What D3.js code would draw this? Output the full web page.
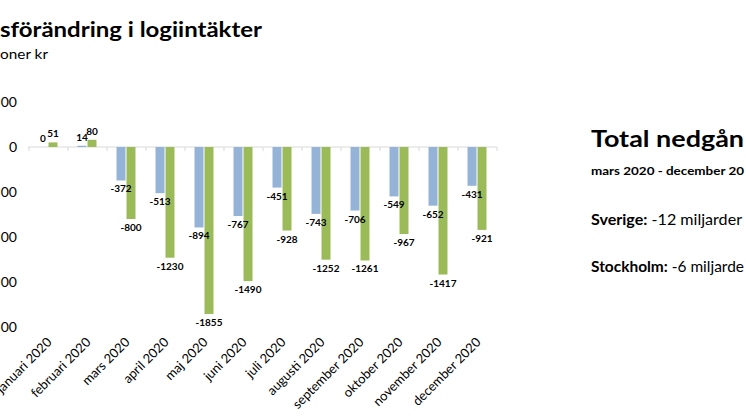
<!DOCTYPE html>
<html>
<head>
<meta charset="utf-8">
<script src="https://cdn.jsdelivr.net/npm/d3@7"></script>
<style>
  body { margin: 0; background: #fff; overflow: hidden; }
  text { font-family: Lato, "Noto Sans", sans-serif; }
</style>
</head>
<body>
<div id="chart"></div>
<script>
"use strict";

const months = ["januari 2020", "februari 2020", "mars 2020", "april 2020", "maj 2020", "juni 2020",
    "juli 2020", "augusti 2020", "september 2020", "oktober 2020", "november 2020", "december 2020"];
const stockholm = [0, 14, -372, -513, -894, -767, -451, -743, -706, -549, -652, -431];
const sverige = [51, 80, -800, -1230, -1855, -1490, -928, -1252, -1261, -967, -1417, -921];
const yTicks = [500, 0, -500, -1000, -1500, -2000];

const width = 746, height = 419;

const svg = d3.select("#chart")
    .append("svg")
    .attr("width", width)
    .attr("height", height);

const x = d3.scaleBand()
    .domain(months)
    .range([29, 497]);

const y = d3.scaleLinear()
    .domain([-2000, 500])
    .range([327, 102]);

// the source image is cropped: only the visible parts of the texts are shown
svg.append("text")
    .attr("x", 0).attr("y", 37)
    .attr("font-size", 21).attr("font-weight", "bold")
    .attr("textLength", 262).attr("lengthAdjust", "spacingAndGlyphs")
    .text("sförändring i logiintäkter");

svg.append("text")
    .attr("x", 0).attr("y", 59)
    .attr("font-size", 14)
    .attr("textLength", 48).attr("lengthAdjust", "spacingAndGlyphs")
    .text("oner kr");

// y tick labels (leading digit cut off in the source)
svg.selectAll(".ylab")
    .data(yTicks)
    .enter().append("text")
    .attr("x", 17)
    .attr("y", d => y(d) + 5)
    .attr("text-anchor", "end")
    .attr("font-size", 14)
    .text(d => d === 0 ? "0" : "00");

// zero line and category ticks
svg.append("line")
    .attr("x1", 28).attr("x2", 497)
    .attr("y1", y(0)).attr("y2", y(0))
    .attr("stroke", "#d9d9d9");

svg.selectAll(".tick")
    .data(months.concat(["end"]))
    .enter().append("line")
    .attr("x1", (d, i) => 29 + i * x.bandwidth())
    .attr("x2", (d, i) => 29 + i * x.bandwidth())
    .attr("y1", y(0)).attr("y2", y(0) + 4)
    .attr("stroke", "#d9d9d9");

const barW = 9;
const series = [
    { values: stockholm, color: "#95b3d7", offset: -10 },
    { values: sverige, color: "#9bbb59", offset: 0 }
];

series.forEach(s => {
    svg.selectAll(null)
        .data(s.values)
        .enter().append("rect")
        .attr("x", (d, i) => x(months[i]) + x.bandwidth() / 2 + s.offset)
        .attr("y", d => y(Math.max(0, d)))
        .attr("width", barW)
        .attr("height", d => Math.abs(y(d) - y(0)))
        .attr("fill", s.color);
});

series.forEach(s => {
    svg.selectAll(null)
        .data(s.values)
        .enter().append("text")
        .attr("x", (d, i) => x(months[i]) + x.bandwidth() / 2 + s.offset + barW / 2)
        .attr("y", d => d >= 0 ? y(d) - 5 : y(d) + 12)
        .attr("text-anchor", "middle")
        .attr("font-size", 10).attr("font-weight", "bold")
        .text(d => d);
});

// x labels
svg.selectAll(".xlab")
    .data(months)
    .enter().append("text")
    .attr("transform", d => "translate(" + (x(d) + x.bandwidth() / 2 + 4) + ",343) rotate(-45)")
    .attr("text-anchor", "end")
    .attr("font-size", 13)
    .text(d => d);

// side note (cut at the right edge in the source)
svg.append("text")
    .attr("x", 591).attr("y", 147)
    .attr("font-size", 23).attr("font-weight", "bold")
    .attr("textLength", 153).attr("lengthAdjust", "spacingAndGlyphs")
    .text("Total nedgån");

svg.append("text")
    .attr("x", 591).attr("y", 175)
    .attr("font-size", 11).attr("font-weight", "bold")
    .attr("textLength", 153).attr("lengthAdjust", "spacingAndGlyphs")
    .text("mars 2020 - december 20");

const notes = [["Sverige:", " -12 miljarder", 225, 151], ["Stockholm:", " -6 miljarde", 272, 153]];
notes.forEach(n => {
    const t = svg.append("text")
        .attr("x", 591).attr("y", n[2])
        .attr("font-size", 15)
        .attr("textLength", n[3]).attr("lengthAdjust", "spacingAndGlyphs");
    t.append("tspan").attr("font-weight", "bold").text(n[0]);
    t.append("tspan").text(n[1]);
});
</script>
</body>
</html>
